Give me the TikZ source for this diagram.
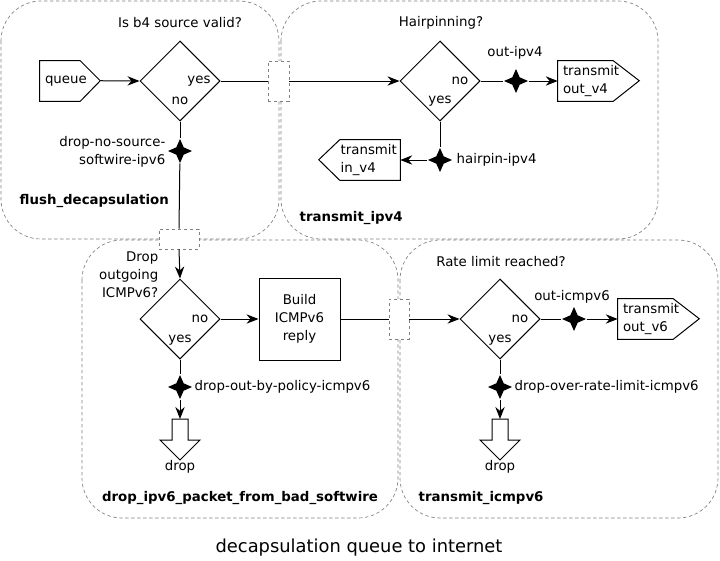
\documentclass[tikz,border=0pt]{standalone}
\usepackage{fontspec}
\setmainfont{DejaVu Sans}
\usetikzlibrary{arrows.meta, shapes.geometric}

\tikzset{
    cluster/.style={draw=gray, dash pattern=on 2.5pt off 2pt, rounded corners=30pt, line width=0.5pt},
    port/.style={draw=gray, dash pattern=on 2.5pt off 2pt, fill=white, inner sep=0pt, line width=0.5pt},
    decision/.style={diamond, draw, aspect=1, minimum size=60pt, inner sep=0pt, line width=0.75pt},
    marker/.style={star, star points=4, star point ratio=2.3, fill=black, inner sep=0pt, minimum size=18pt},
    sig/.style={inner ysep=0pt, minimum height=30pt, align=left},
    flow/.style={-{Stealth[length=9pt, width=7pt]}, line width=0.75pt},
    edge/.style={line width=0.75pt},
    cname/.style={font=\bfseries}
}

\begin{document}
\begin{tikzpicture}[x=0.75pt, y=-0.75pt, font=\fontsize{10}{13.5}\selectfont]

    \useasboundingbox (0,0) rectangle (720,560);

    % Clusters
    \draw[cluster] (1,1) rectangle (279,239);
    \draw[cluster] (281,1) rectangle (658,239);
    \draw[cluster] (82,240) rectangle (398,518);
    \draw[cluster] (400,240) rectangle (718,518);

    \node[cname, anchor=west] (fdname) at (15,201) {flush\_decapsulation};
    \node[cname, anchor=west] (tv4name) at (295,218) {transmit\_ipv4};
    \node[cname] (dropname) at (240,498) {drop\_ipv6\_packet\_from\_bad\_softwire};
    \node[cname, anchor=west] (ticmpname) at (414,498) {transmit\_icmpv6};

    % flush_decapsulation
    \node[sig, inner xsep=3.75pt, text width=22.5pt] (queue) at (60,81) {queue};
    \draw[edge] (queue.north west) -- (queue.north east) -- ++(15pt,-15pt)
        coordinate (queuetip) -- (queue.south east) -- (queue.south west) -- cycle;
    \node[decision] (valid) at (180,81) {};
    \node (validq) at (180,23) {Is b4 source valid?};
    \node (validyes) at (199,81) {yes};
    \node (validno) at (180,101) {no};
    \draw[flow] (queuetip) -- (valid.west);

    % Ports between clusters
    \node[port, minimum width=15.75pt, minimum height=30pt] (p1) at (278.5,81) {};
    \node[port, minimum width=30pt, minimum height=15pt] (p2) at (179,239) {};
    \node[port, minimum width=15pt, minimum height=30pt] (p3) at (399,319) {};

    % transmit_ipv4
    \node[decision] (hairpin) at (440,81) {};
    \node (hairpinq) at (441,23) {Hairpinning?};
    \node (hairpinno) at (460,81) {no};
    \node (hairpinyes) at (440,101) {yes};

    \node[sig, inner xsep=3.75pt, text width=33.75pt] (outv4) at (585.5,81) {transmit\\out\_v4};
    \draw[edge] (outv4.north west) -- (outv4.north east) -- ++(19.5pt,-15pt)
        -- (outv4.south east) -- (outv4.south west) -- cycle;
    \node[sig, inner xsep=0.5pt, text width=44pt] (inv4) at (370,160) {transmit\\in\_v4};
    \draw[edge] (inv4.north east) -- (inv4.north west) -- ++(-15.75pt,-15pt)
        -- (inv4.south west) -- (inv4.south east) -- cycle;

    \draw[edge] (valid.east) -- (p1.west);
    \draw[flow] (p1.east) -- (hairpin.west);

    \node[marker] (outv4m) at (516,81) {};
    \node (outv4lbl) at (515,53) {out-ipv4};
    \draw[edge] (hairpin.east) -- (outv4m);
    \draw[flow] (outv4m) -- (outv4.west);

    \node[marker] (hairpinm) at (440,160) {};
    \node[anchor=west] (hairpinlbl) at (452,160) {hairpin-ipv4};
    \draw[edge] (hairpin.south) -- (hairpinm);
    \draw[flow] (hairpinm) -- (inv4.east);

    % drop path of flush_decapsulation
    \node[marker] (nosrcm) at (180,151) {};
    \node[align=right, anchor=east] (nosrclbl) at (170,152) {drop-no-source-\\softwire-ipv6};
    \draw[edge] (valid.south) -- (nosrcm);
    \draw[edge] (nosrcm) -- (p2.north);

    % drop_ipv6_packet_from_bad_softwire
    \node[decision] (policy) at (180,319) {};
    \node[align=right, anchor=east] (policyq) at (163,275) {Drop\\outgoing\\ICMPv6?};
    \node (policyno) at (200,319) {no};
    \node (policyyes) at (180,340) {yes};
    \draw[flow] (p2.south) -- (policy.north);

    \node[draw, line width=0.75pt, minimum width=60.75pt, minimum height=61.5pt, align=center] (build) at (299.5,319) {Build\\ICMPv6\\reply};
    \draw[flow] (policy.east) -- (build.west);

    \node[marker] (policym) at (180,387) {};
    \node[anchor=west] (policylbl) at (190,387) {drop-out-by-policy-icmpv6};
    \coordinate (drop1) at (180,419);
    \draw[edge] (drop1) ++(-6pt,0) -- ++(0,-15.75pt) -- ++(-9pt,0) -- ++(15pt,-15pt)
        -- ++(15pt,15pt) -- ++(-9pt,0) -- ++(0,15.75pt) -- cycle;
    \node (drop1lbl) at (180,467) {drop};
    \draw[edge] (policy.south) -- (policym);
    \draw[flow] (policym) -- (drop1);

    % transmit_icmpv6
    \node[decision] (rate) at (500,319) {};
    \node (rateq) at (501,262) {Rate limit reached?};
    \node (rateno) at (520,319) {no};
    \node (rateyes) at (500,340) {yes};
    \draw[edge] (build.east) -- (p3.west);
    \draw[flow] (p3.east) -- (rate.west);

    \node[sig, inner xsep=3.75pt, text width=33.75pt] (outv6) at (645.5,319) {transmit\\out\_v6};
    \draw[edge] (outv6.north west) -- (outv6.north east) -- ++(19.5pt,-15pt)
        -- (outv6.south east) -- (outv6.south west) -- cycle;
    \node[marker] (outv6m) at (574,319) {};
    \node (outv6lbl) at (572,297) {out-icmpv6};
    \draw[edge] (rate.east) -- (outv6m);
    \draw[flow] (outv6m) -- (outv6.west);

    \node[marker] (ratem) at (500,387) {};
    \node[anchor=west] (ratelbl) at (510,387) {drop-over-rate-limit-icmpv6};
    \coordinate (drop2) at (500,419);
    \draw[edge] (drop2) ++(-6pt,0) -- ++(0,-15.75pt) -- ++(-9pt,0) -- ++(15pt,-15pt)
        -- ++(15pt,15pt) -- ++(-9pt,0) -- ++(0,15.75pt) -- cycle;
    \node (drop2lbl) at (500,467) {drop};
    \draw[edge] (rate.south) -- (ratem);
    \draw[flow] (ratem) -- (drop2);

    % Graph title
    \node[font=\fontsize{13.4}{16}\selectfont] (title) at (359,548) {decapsulation queue to internet};

\end{tikzpicture}
\end{document}
